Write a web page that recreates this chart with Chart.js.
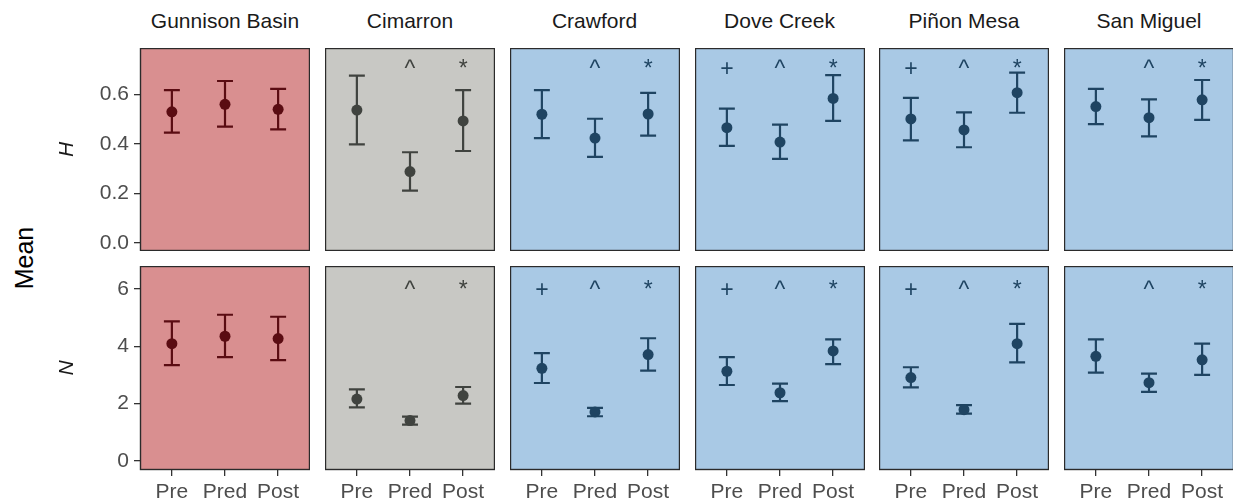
<!DOCTYPE html>
<html>
<head>
<meta charset="utf-8">
<script src="https://cdn.jsdelivr.net/npm/chart.js@4/dist/chart.umd.min.js"></script>
<style>
  html, body { margin: 0; padding: 0; background: #fff; overflow: hidden; }
  body { width: 1233px; height: 504px; position: relative; font-family: "Liberation Sans", Arial, sans-serif; }
  .panel { position: absolute; }
  .strip { position: absolute; top: 9px; height: 24px; line-height: 24px; text-align: center; font-size: 21px; color: #1a1a1a; white-space: nowrap; }
  #ylab { position: absolute; left: 24px; top: 258px; font-size: 25px; color: #000; transform: translate(-50%, -50%) rotate(-90deg); white-space: nowrap; }
</style>
</head>
<body>
<div id="ylab">Mean</div>

<script>
// sites along the top, periods along x, one row per measure
var sites = ['Gunnison Basin', 'Cimarron', 'Crawford', 'Dove Creek', 'Piñon Mesa', 'San Miguel'];
var periods = ['Pre', 'Pred', 'Post'];

// H: means with lower / upper interval limits, per site
var hMean = [
    [0.529, 0.559, 0.539],
    [0.536, 0.288, 0.492],
    [0.519, 0.423, 0.520],
    [0.465, 0.407, 0.583],
    [0.500, 0.456, 0.606],
    [0.550, 0.505, 0.577]
];
var hLow = [
    [0.445, 0.469, 0.458],
    [0.398, 0.211, 0.371],
    [0.423, 0.347, 0.433],
    [0.392, 0.339, 0.492],
    [0.414, 0.386, 0.525],
    [0.479, 0.430, 0.496]
];
var hHigh = [
    [0.616, 0.653, 0.621],
    [0.675, 0.366, 0.616],
    [0.616, 0.501, 0.605],
    [0.542, 0.477, 0.677],
    [0.585, 0.527, 0.687],
    [0.621, 0.579, 0.657]
];

// N: means with lower / upper interval limits, per site
var nMean = [
    [4.09, 4.35, 4.27],
    [2.16, 1.41, 2.28],
    [3.23, 1.71, 3.71],
    [3.13, 2.38, 3.84],
    [2.91, 1.79, 4.09],
    [3.65, 2.73, 3.53]
];
var nLow = [
    [3.34, 3.62, 3.52],
    [1.87, 1.27, 2.00],
    [2.72, 1.56, 3.15],
    [2.65, 2.09, 3.38],
    [2.57, 1.65, 3.44],
    [3.08, 2.41, 3.00]
];
var nHigh = [
    [4.87, 5.10, 5.03],
    [2.50, 1.55, 2.58],
    [3.76, 1.85, 4.28],
    [3.62, 2.70, 4.24],
    [3.27, 1.95, 4.78],
    [4.24, 3.05, 4.09]
];

// significance symbols above each period
var hMarks = [
    ['', '', ''],
    ['', '^', '*'],
    ['', '^', '*'],
    ['+', '^', '*'],
    ['+', '^', '*'],
    ['', '^', '*']
];
var nMarks = [
    ['', '', ''],
    ['', '^', '*'],
    ['+', '^', '*'],
    ['+', '^', '*'],
    ['+', '^', '*'],
    ['', '^', '*']
];

var hTicks = [0, 0.2, 0.4, 0.6];
var nTicks = [0, 2, 4, 6];

// panel fill / mark colour per site
var siteStyle = [
    { bg: '#d98f90', fg: '#5a0c12' },
    { bg: '#c8c8c4', fg: '#40433f' },
    { bg: '#a9c9e5', fg: '#1f4462' },
    { bg: '#a9c9e5', fg: '#1f4462' },
    { bg: '#a9c9e5', fg: '#1f4462' },
    { bg: '#a9c9e5', fg: '#1f4462' }
];

var rows = [
    { name: 'H', mean: hMean, low: hLow, high: hHigh, marks: hMarks, ticks: hTicks,
      min: -0.032, max: 0.786, markY: 0.70, fmt: function (v) { return v.toFixed(1); } },
    { name: 'N', mean: nMean, low: nLow, high: nHigh, marks: nMarks, ticks: nTicks,
      min: -0.314, max: 6.80, markY: 5.95, fmt: function (v) { return String(v); } }
];

var panelLeft = [140, 325, 509.5, 694.5, 879, 1064];
var panelTop = [48, 266];
var panelW = 170, panelH = [203, 204];
var yAxisW = 85, xAxisH = 34;
var tickFont = { family: '"Liberation Sans", Arial, sans-serif', size: 21 };

// background, border, error bars and symbols for one facet
var facetPlugin = {
    id: 'facet',
    beforeDatasetsDraw: function (chart) {
        var o = chart.options.plugins.facet;
        var a = chart.chartArea;
        var ctx = chart.ctx;
        var xs = chart.scales.x, ys = chart.scales.y;
        ctx.save();
        ctx.fillStyle = o.bg;
        ctx.fillRect(a.left, a.top, a.right - a.left, a.bottom - a.top);

        ctx.strokeStyle = o.fg;
        ctx.lineWidth = 2.2;
        for (var i = 0; i < o.low.length; i++) {
            var x = xs.getPixelForValue(i + 1);
            var x0 = xs.getPixelForValue(i + 1 - 0.15);
            var x1 = xs.getPixelForValue(i + 1 + 0.15);
            var y0 = ys.getPixelForValue(o.low[i]);
            var y1 = ys.getPixelForValue(o.high[i]);
            ctx.beginPath();
            ctx.moveTo(x, y0); ctx.lineTo(x, y1);
            ctx.moveTo(x0, y0); ctx.lineTo(x1, y0);
            ctx.moveTo(x0, y1); ctx.lineTo(x1, y1);
            ctx.stroke();
        }

        ctx.fillStyle = o.fg;
        ctx.font = '23px "Liberation Sans", Arial, sans-serif';
        ctx.textAlign = 'center';
        ctx.textBaseline = 'middle';
        for (var j = 0; j < o.marks.length; j++) {
            if (!o.marks[j]) continue;
            ctx.fillText(o.marks[j], xs.getPixelForValue(j + 1), ys.getPixelForValue(o.markY));
        }
        ctx.restore();
    },
    afterDatasetsDraw: function (chart) {
        var a = chart.chartArea;
        var ctx = chart.ctx;
        ctx.save();
        ctx.strokeStyle = '#2b2b2b';
        ctx.lineWidth = 1.4;
        ctx.strokeRect(a.left + 0.5, a.top + 0.5, a.right - a.left - 1, a.bottom - a.top - 1);
        ctx.restore();
    }
};

function fixSize(scale, prop, size) {
    scale[prop] = size;
    scale.paddingLeft = scale.paddingRight = scale.paddingTop = scale.paddingBottom = 0;
}

function makePanel(r, c) {
    var row = rows[r];
    var style = siteStyle[c];
    var showY = c === 0, showX = r === 1;

    var div = document.createElement('div');
    div.className = 'panel';
    var left = panelLeft[c] - (showY ? yAxisW : 0);
    var w = panelW + (showY ? yAxisW : 0);
    var h = panelH[r] + (showX ? xAxisH : 0);
    div.style.left = left + 'px';
    div.style.top = panelTop[r] + 'px';
    div.style.width = w + 'px';
    div.style.height = h + 'px';
    var canvas = document.createElement('canvas');
    canvas.width = w;
    canvas.height = h;
    div.appendChild(canvas);
    document.body.appendChild(div);

    var points = row.mean[c].map(function (v, i) { return { x: i + 1, y: v }; });

    return new Chart(canvas.getContext('2d'), {
        type: 'scatter',
        data: {
            datasets: [{
                label: sites[c] + ' ' + row.name,
                data: points,
                backgroundColor: style.fg,
                borderColor: style.fg,
                pointRadius: 5.5,
                pointHoverRadius: 5.5,
                borderWidth: 0
            }]
        },
        options: {
            responsive: false,
            animation: false,
            events: [],
            layout: { padding: 0, autoPadding: false },
            plugins: {
                legend: { display: false },
                tooltip: { enabled: false },
                facet: { bg: style.bg, fg: style.fg, low: row.low[c], high: row.high[c], marks: row.marks[c], markY: row.markY }
            },
            scales: {
                x: {
                    type: 'linear',
                    min: 0.4,
                    max: 3.6,
                    display: showX,
                    afterBuildTicks: function (s) { s.ticks = periods.map(function (p, i) { return { value: i + 1 }; }); },
                    afterFit: function (s) { fixSize(s, 'height', showX ? xAxisH : 0); },
                    ticks: {
                        autoSkip: false,
                        maxRotation: 0,
                        padding: 4,
                        color: '#4d4d4d',
                        font: tickFont,
                        callback: function (v) { return periods[v - 1]; }
                    },
                    grid: { display: true, drawOnChartArea: false, drawTicks: true, tickLength: 6, color: '#333333', lineWidth: 1.3 },
                    border: { display: false }
                },
                y: {
                    type: 'linear',
                    min: row.min,
                    max: row.max,
                    display: showY,
                    afterBuildTicks: function (s) { s.ticks = row.ticks.map(function (v) { return { value: v }; }); },
                    afterFit: function (s) { fixSize(s, 'width', showY ? yAxisW : 0); },
                    title: {
                        display: true,
                        text: row.name,
                        color: '#1a1a1a',
                        padding: 0,
                        font: { family: '"Liberation Sans", Arial, sans-serif', size: 21, style: 'italic' }
                    },
                    ticks: {
                        autoSkip: false,
                        padding: 5,
                        color: '#4d4d4d',
                        font: tickFont,
                        callback: row.fmt
                    },
                    grid: { display: true, drawOnChartArea: false, drawTicks: true, tickLength: 6, color: '#333333', lineWidth: 1.3 },
                    border: { display: false }
                }
            }
        },
        plugins: [facetPlugin]
    });
}

sites.forEach(function (name, c) {
    var s = document.createElement('div');
    s.className = 'strip';
    s.style.left = panelLeft[c] + 'px';
    s.style.width = panelW + 'px';
    s.textContent = name;
    document.body.appendChild(s);
    makePanel(0, c);
    makePanel(1, c);
});
</script>
</body>
</html>
